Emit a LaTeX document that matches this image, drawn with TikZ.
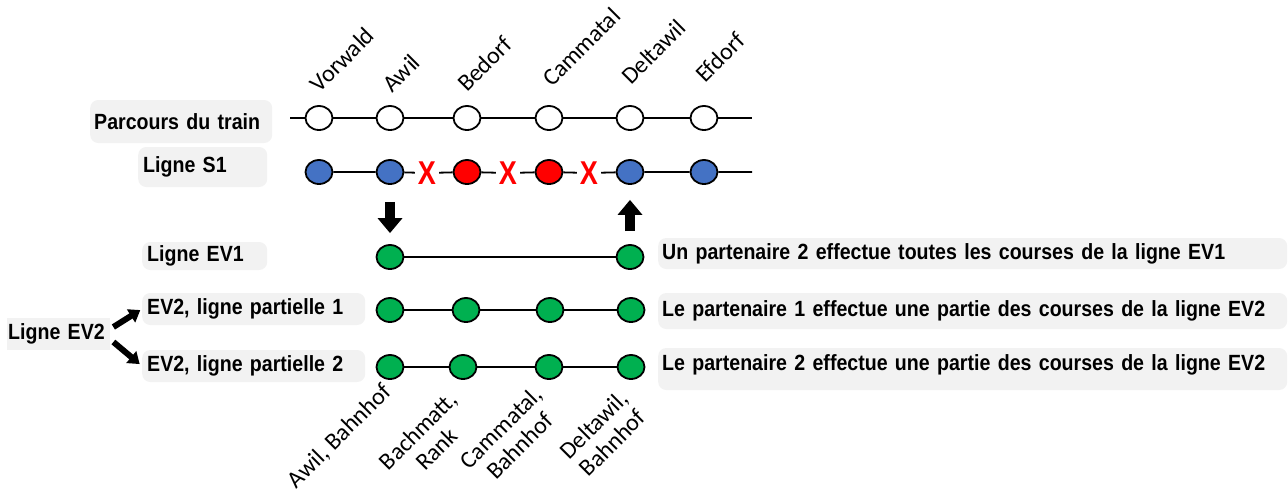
\documentclass[tikz,border=0pt]{standalone}
\usepackage{fontspec}
\setmainfont{Liberation Sans}
\newfontfamily\lblfont{Liberation Sans}[UprightFont={* Bold}, FakeStretch=0.89]
\newfontfamily\carl{Carlito}
\usetikzlibrary{shapes.geometric,arrows.meta,calc}
\definecolor{boxgray}{HTML}{F2F2F2}
\definecolor{stblue}{HTML}{4472C4}
\definecolor{stred}{HTML}{FF0000}
\definecolor{stgreen}{HTML}{00B050}
\tikzset{
  lbl/.style={fill=boxgray, rounded corners=8pt, inner xsep=5pt, inner ysep=0pt, anchor=west, align=left,
    font=\lblfont\fontsize{22}{26}\selectfont},
  stn/.style={ellipse, draw=black, line width=1.8pt, minimum width=27pt, minimum height=24pt, inner sep=0pt},
  xmark/.style={text=stred, inner xsep=3pt, inner ysep=0pt, font=\bfseries\fontsize{33}{33}\selectfont},
  rail/.style={line width=1.8pt, black},
  blk/.style={line width=10pt, -{Triangle[width=24pt,length=15pt]}},
  blktwo/.style={line width=6pt, -{Triangle[width=15pt,length=11pt]}},
  toplbl/.style={font=\carl\fontsize{24}{28}\selectfont, rotate=45, anchor=base west, inner sep=0pt},
  botlbl/.style={font=\carl\fontsize{24}{26}\selectfont, rotate=45, anchor=north east, inner sep=0pt, align=center}
}
\begin{document}
\begin{tikzpicture}[x=1pt,y=-1pt]
\useasboundingbox (0,0) rectangle (1288,491);
% left labels
\node[lbl, inner xsep=4pt, text width=174pt, minimum height=43pt] (lpar) at (90,121.5) {Parcours du train};
\node[lbl, text width=119pt, minimum height=40pt] (ls1) at (138,167) {Ligne S1};
\node[lbl, text width=115pt, minimum height=28pt] (lev1) at (142,256) {Ligne EV1};
\node[lbl, text width=213pt, minimum height=32pt] (lev2a) at (142,309) {EV2, ligne partielle 1};
\node[lbl, text width=213pt, minimum height=32pt] (lev2b) at (142,366) {EV2, ligne partielle 2};
\node[lbl, rounded corners=0pt, inner xsep=1pt, text width=101pt, minimum height=32pt] (lev2) at (7,334) {Ligne EV2};
% right labels
\node[lbl, inner xsep=4pt, text width=621pt, minimum height=31pt] (r1) at (658,253.5) {Un partenaire 2 effectue toutes les courses de la ligne EV1};
\node[lbl, inner xsep=4pt, text width=621pt, minimum height=36pt] (r2) at (658,311) {Le partenaire 1 effectue une partie des courses de la ligne EV2};
\node[lbl, inner xsep=4pt, text width=621pt, minimum height=42pt, text depth=12pt] (r3) at (658,369) {Le partenaire 2 effectue une partie des courses de la ligne EV2};
% row 1
\coordinate (ps) at (290,118);
\coordinate (pe) at (752,118);
\draw[rail] (ps) -- (pe);
\node[stn, fill=white] (p1) at (319,118) {};
\node[stn, fill=white] (p2) at (390,118) {};
\node[stn, fill=white] (p3) at (467,118) {};
\node[stn, fill=white] (p4) at (549,118) {};
\node[stn, fill=white] (p5) at (630,118) {};
\node[stn, fill=white] (p6) at (704,118) {};
% top labels
\node[toplbl] (tv) at (319,94) {Vorwald};
\node[toplbl] (ta) at (392,94) {Awil};
\node[toplbl] (tb) at (467,93) {Bedorf};
\node[toplbl] (tc) at (552,88) {Cammatal};
\node[toplbl] (td) at (631,86) {Deltawil};
\node[toplbl] (te) at (705,84) {Efdorf};
% row 2
\node[stn, fill=stblue] (s1) at (319,172) {};
\node[stn, fill=stblue] (s2) at (390,172) {};
\node[xmark] (x1) at (427,173) {\scalebox{0.82}[1]{X}};
\node[stn, fill=stred] (s3) at (467,172) {};
\node[xmark] (x2) at (508,173) {\scalebox{0.82}[1]{X}};
\node[stn, fill=stred] (s4) at (549,172) {};
\node[xmark] (x3) at (589,173) {\scalebox{0.82}[1]{X}};
\node[stn, fill=stblue] (s5) at (630,172) {};
\node[stn, fill=stblue] (s6) at (704,172) {};
\coordinate (se) at (752,172);
\draw[rail] (s1) -- (s2) -- (x1) -- (s3) -- (x2) -- (s4) -- (x3) -- (s5) -- (s6) -- (se);
% row 3
\node[stn, fill=stgreen] (e1) at (390,257) {};
\node[stn, fill=stgreen] (e2) at (630,257) {};
\draw[rail] (e1) -- (e2);
% row 4
\node[stn, fill=stgreen] (f1) at (390,310) {};
\node[stn, fill=stgreen] (f2) at (466,310) {};
\node[stn, fill=stgreen] (f3) at (550,310) {};
\node[stn, fill=stgreen] (f4) at (631,310) {};
\draw[rail] (f1) -- (f2) -- (f3) -- (f4);
% row 5
\node[stn, fill=stgreen] (g1) at (390,367) {};
\node[stn, fill=stgreen] (g2) at (463,367) {};
\node[stn, fill=stgreen] (g3) at (549,367) {};
\node[stn, fill=stgreen] (g4) at (631,367) {};
\draw[rail] (g1) -- (g2) -- (g3) -- (g4);
% bottom labels
\node[botlbl] (b1) at (381,381) {Awil, Bahnhof};
\node[botlbl] (b2) at (447,389) {Bachmatt,\\Rank};
\node[botlbl] (b3) at (532,384) {Cammatal,\\Bahnhof};
\node[botlbl] (b4) at (618,388) {Deltawil,\\Bahnhof};
% block arrows
\draw[blk, shorten <=17pt, shorten >=11pt] (s2) -- (e1);
\draw[blk, shorten <=13pt, shorten >=15pt] (e2) -- (s5);
\draw[blktwo, shorten >=2pt] ([shift={(3,-7)}]lev2.east) -- (lev2a.west);
\draw[blktwo, shorten >=3pt] ([shift={(3,8)}]lev2.east) -- (lev2b.west);
\end{tikzpicture}
\end{document}
